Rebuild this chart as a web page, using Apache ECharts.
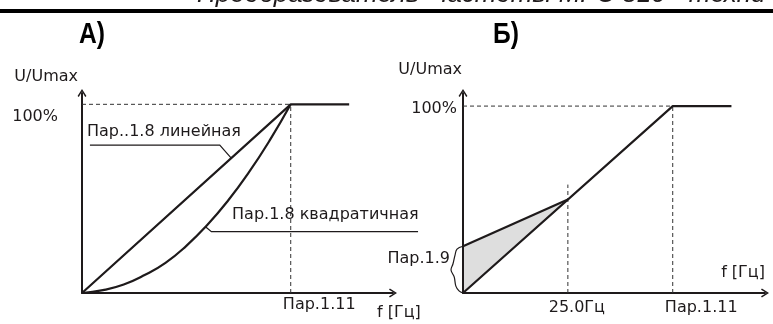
<!DOCTYPE html>
<html>
<head>
<meta charset="utf-8">
<script src="https://cdn.jsdelivr.net/npm/echarts@6/dist/echarts.min.js"></script>
<style>
  html, body { margin: 0; padding: 0; background: #fff; }
  #chart { width: 773px; height: 324px; }
</style>
</head>
<body>
<div id="chart"></div>
<script>
// ---- Panel А: U/Umax versus f (f in % of Пар.1.11) ----
const linFreqA = [0, 100, 128];
const linVoltA = [0, 100, 100];
const quadFreqA = [0, 10, 20, 30, 40, 50, 60, 70, 80, 90, 100];
const quadVoltA = [0, 1.5, 4.5, 9.5, 16, 25, 36, 49, 64, 81, 100];
const breakA = 100;          // Пар.1.11
const ratedVolt = 100;       // 100 %

// leader lines for the two curve captions
const leadLinX = [3.8, 66, 71.5];
const leadLinY = [78.4, 78.4, 71.5];
const leadQuadX = [59.3, 62, 161];
const leadQuadY = [35, 32.5, 32.5];

// ---- Panel Б: linear law with start boost (f in Гц) ----
const linFreqB = [0, 50, 64];
const linVoltB = [0, 100, 100];
const boostFreqB = [0, 25];
const boostVoltB = [25, 50];
const kneeB = 25;            // 25.0 Гц
const kneeGuideTopB = 58;
const breakB = 50;           // Пар.1.11
const braceX = [0, -1.43, -1.9, -2.4, -2.86, -2.1, -1.7, -0.95, 0];
const braceY = [25, 23.5, 20.3, 15.5, 12.3, 8.6, 3.7, 1.1, 0];

// tick / caption texts
const yTickText = '100%';
const xTickA = 'Пар.1.11';
const xTicksB = { 25: '25.0Гц', 50: 'Пар.1.11' };
const yName = 'U/Umax';
const xName = 'f [Гц]';
const capLin = 'Пар..1.8 линейная';
const capQuad = 'Пар.1.8 квадратичная';
const capBoost = 'Пар.1.9';

const INK = '#1e1a1b';
const FONT = "'DejaVu Sans', 'Liberation Sans', Arial, sans-serif";
const FS = 16;
const zip = (xs, ys) => xs.map((x, i) => [x, ys[i]]);
const chevron = 'path://M0,8 L5,0 L10,8 L8.6,9 L5,2.8 L1.4,9 Z';

const axisLineStyle = {
  show: true,
  symbol: ['none', chevron],
  symbolSize: [10, 8],
  lineStyle: { color: INK, width: 2 }
};
const dashStyle = { color: '#333', width: 1, type: [4, 3] };

function xAxisCfg(gridIndex, max, labelCfg, nameCfg) {
  return Object.assign({
    type: 'value', gridIndex, min: 0, max,
    axisLine: axisLineStyle,
    axisTick: { show: false },
    splitLine: { show: false },
    axisLabel: labelCfg,
    name: xName,
    nameLocation: 'end'
  }, nameCfg);
}
function yAxisCfg(gridIndex, max, labelCfg, nameCfg) {
  return Object.assign({
    type: 'value', gridIndex, min: 0, max,
    axisLine: axisLineStyle,
    axisTick: { show: false },
    splitLine: { show: false },
    axisLabel: labelCfg,
    name: yName,
    nameLocation: 'end'
  }, nameCfg);
}

function guide(xAxisIndex, yAxisIndex, xs, ys) {
  return {
    type: 'line', xAxisIndex, yAxisIndex, data: zip(xs, ys),
    symbol: 'none', silent: true, z: 1,
    lineStyle: dashStyle
  };
}
function curve(xAxisIndex, yAxisIndex, xs, ys, extra) {
  return Object.assign({
    type: 'line', xAxisIndex, yAxisIndex, data: zip(xs, ys),
    symbol: 'none', silent: true, clip: false, z: 3,
    lineStyle: { color: INK, width: 2.2 }
  }, extra || {});
}
// thin annotation strokes (leaders, brace), placed through the axes' scales
function stroke(xAxisIndex, yAxisIndex, xs, ys, smooth) {
  return {
    type: 'custom', xAxisIndex, yAxisIndex, silent: true, clip: false, z: 4,
    data: [[xs[0], ys[0]]],
    renderItem: (params, api) => ({
      type: 'polyline',
      shape: { points: zip(xs, ys).map(p => api.coord(p)), smooth: smooth || 0 },
      style: { stroke: INK, lineWidth: 1.2, fill: null }
    })
  };
}
function caption(xAxisIndex, yAxisIndex, x, y, text, pos) {
  return {
    type: 'scatter', xAxisIndex, yAxisIndex, clip: false,
    symbolSize: 0, silent: true, z: 5,
    itemStyle: { opacity: 1 },
    data: [[x, y]],
    label: {
      show: true, position: pos || 'right', distance: 0,
      formatter: text, color: INK, fontFamily: FONT, fontSize: FS
    }
  };
}

const chart = echarts.init(document.getElementById('chart'), null, { renderer: 'canvas' });

chart.setOption({
  animation: false,
  textStyle: { fontFamily: FONT, color: INK },
  graphic: [
    { type: 'rect', shape: { x: 0, y: 9, width: 773, height: 4 }, style: { fill: '#000' } },
    { type: 'text', left: 197, top: -18,
      style: { text: 'Преобразователь  частоты MFC 810 - техническое описание', fill: INK,
               font: "italic 26px 'Liberation Sans', Arial, sans-serif" } },
    { type: 'text', x: 79, y: 20, scaleX: 0.85,
      style: { text: 'А)', fill: '#000', font: "bold 29px 'Liberation Sans', Arial" } },
    { type: 'text', x: 493, y: 20, scaleX: 0.85,
      style: { text: 'Б)', fill: '#000', font: "bold 29px 'Liberation Sans', Arial" } }
  ],
  grid: [
    { left: 82, top: 93, width: 311, height: 200, containLabel: false },
    { left: 463, top: 93, width: 302, height: 200, containLabel: false }
  ],
  xAxis: [
    xAxisCfg(0, 149, {
      customValues: [breakA], margin: 4, color: INK, fontSize: FS,
      formatter: () => '{t|' + xTickA + '}',
      rich: { t: { fontSize: FS, color: INK, padding: [0, 0, 0, 57] } }
    }, {
      nameGap: -16,
      nameTextStyle: { color: INK, fontSize: FS, align: 'left', verticalAlign: 'top', padding: [12, 0, 0, 0] }
    }),
    xAxisCfg(1, 72, {
      customValues: [kneeB, breakB], margin: 7, color: INK, fontSize: FS,
      formatter: v => (v === breakB ? '{t|' : '{k|') + xTicksB[v] + '}',
      rich: {
        t: { fontSize: FS, color: INK, padding: [0, 0, 0, 57] },
        k: { fontSize: FS, color: INK, padding: [0, 0, 0, 18] }
      }
    }, {
      nameGap: 0,
      nameTextStyle: { color: INK, fontSize: FS, align: 'right', verticalAlign: 'bottom', padding: [0, 0, 12, 0] }
    })
  ],
  yAxis: [
    yAxisCfg(0, 106, {
      customValues: [ratedVolt], margin: 24, color: INK, fontSize: FS,
      verticalAlign: 'top', padding: [5, 0, 0, 0],
      formatter: () => yTickText
    }, {
      nameGap: 16,
      nameTextStyle: { color: INK, fontSize: FS, align: 'right', verticalAlign: 'middle', padding: [0, 4, 0, 0] }
    }),
    yAxisCfg(1, 107, {
      customValues: [ratedVolt], margin: 6, color: INK, fontSize: FS,
      formatter: () => '{v|' + yTickText + '}',
      rich: { v: { fontSize: FS, color: INK, padding: [5, 0, 0, 0] } }
    }, {
      nameGap: 23,
      nameTextStyle: { color: INK, fontSize: FS, align: 'right', verticalAlign: 'middle', padding: [0, 1, 0, 0] }
    })
  ],
  series: [
    // panel А guides
    guide(0, 0, [0, breakA], [ratedVolt, ratedVolt]),
    guide(0, 0, [breakA, breakA], [0, ratedVolt]),
    // panel А curves
    curve(0, 0, linFreqA, linVoltA),
    curve(0, 0, quadFreqA, quadVoltA, { smooth: 0.5 }),
    stroke(0, 0, leadLinX, leadLinY),
    stroke(0, 0, leadQuadX, leadQuadY),
    caption(0, 0, 2.4, 85.3, capLin),
    caption(0, 0, 71.9, 41.3, capQuad),

    // panel Б boost area
    {
      type: 'custom', xAxisIndex: 1, yAxisIndex: 1, silent: true, z: 0,
      data: [[0]],
      renderItem: (params, api) => {
        const pts = [[0, 0], [boostFreqB[0], boostVoltB[0]], [boostFreqB[1], boostVoltB[1]]]
          .map(p => api.coord(p));
        return { type: 'polygon', shape: { points: pts }, style: { fill: '#dedede' } };
      }
    },
    // panel Б guides
    guide(1, 1, [0, breakB], [ratedVolt, ratedVolt]),
    guide(1, 1, [breakB, breakB], [0, ratedVolt]),
    guide(1, 1, [kneeB, kneeB], [0, kneeGuideTopB]),
    // panel Б curves
    curve(1, 1, linFreqB, linVoltB),
    curve(1, 1, boostFreqB, boostVoltB),
    stroke(1, 1, braceX, braceY, 0.4),
    caption(1, 1, -3.1, 18.2, capBoost, 'left')
  ]
});
</script>
</body>
</html>
